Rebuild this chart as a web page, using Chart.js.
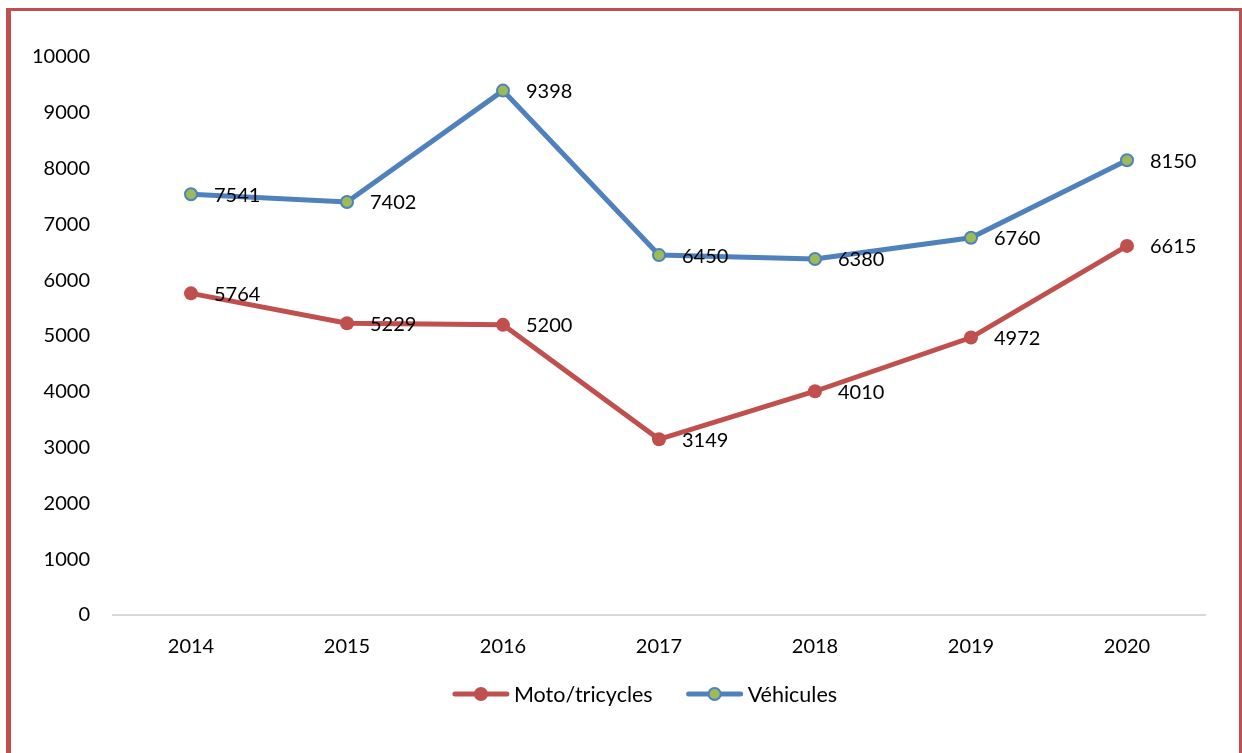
<!DOCTYPE html>
<html>
<head>
<meta charset="utf-8">
<script src="https://cdn.jsdelivr.net/npm/chart.js@4/dist/chart.umd.min.js"></script>
<style>
  html, body { margin: 0; padding: 0; background: #fff; overflow: hidden; }
  #wrap { position: relative; width: 1242px; height: 753px; }
  #chart { position: absolute; left: 0; top: 0; }
  #frame {
    position: absolute; left: 6px; top: 8px; right: 0; bottom: -10px;
    border-left: 5px solid #C0504D; border-top: 3px solid #C0504D; border-right: 3px solid #C0504D;
    pointer-events: none;
  }
</style>
</head>
<body>
<div id="wrap">
  <canvas id="chart" width="1242" height="753"></canvas>
  <div id="frame"></div>
</div>
<script>
const years = ["2014", "2015", "2016", "2017", "2018", "2019", "2020"];
const motoValues = [5764, 5229, 5200, 3149, 4010, 4972, 6615];
const vehiculeValues = [7541, 7402, 9398, 6450, 6380, 6760, 8150];
const seriesNames = ["Moto/tricycles", "Véhicules"];

const RED = "#C0504D";
const BLUE = "#4F81BD";
const GREEN = "#9BBB59";
const FONT = "Lato, 'Open Sans', sans-serif";

// value next to each point
const valueLabels = {
  id: "valueLabels",
  afterDatasetsDraw(chart) {
    const ctx = chart.ctx;
    ctx.save();
    ctx.font = "20px " + FONT;
    ctx.fillStyle = "#000";
    ctx.textAlign = "left";
    ctx.textBaseline = "middle";
    chart.data.datasets.forEach((ds, i) => {
      chart.getDatasetMeta(i).data.forEach((pt, j) => {
        ctx.fillText(String(ds.data[j]), pt.x + 23, pt.y + 1);
      });
    });
    ctx.restore();
  },
};

// Excel style legend: line sample with marker, then the name
const lineLegend = {
  id: "lineLegend",
  afterDraw(chart) {
    const ctx = chart.ctx;
    const sampleW = 56, textGap = 5, itemGap = 34;
    const cx = (chart.chartArea.left + chart.chartArea.right) / 2 - 14;
    const y = 694;
    ctx.save();
    ctx.font = "21.5px " + FONT;
    const widths = chart.data.datasets.map((ds) => sampleW + textGap + ctx.measureText(ds.label).width);
    const total = widths.reduce((a, b) => a + b, 0) + itemGap * (widths.length - 1);
    let x = cx - total / 2;
    chart.data.datasets.forEach((ds, i) => {
      ctx.strokeStyle = ds.borderColor;
      ctx.lineWidth = 5;
      ctx.lineCap = "round";
      ctx.beginPath();
      ctx.moveTo(x + 2, y);
      ctx.lineTo(x + sampleW - 2, y);
      ctx.stroke();
      ctx.beginPath();
      ctx.arc(x + sampleW / 2, y, ds.pointRadius, 0, Math.PI * 2);
      ctx.fillStyle = ds.pointBackgroundColor;
      ctx.fill();
      if (ds.pointBorderWidth) {
        ctx.lineWidth = ds.pointBorderWidth;
        ctx.strokeStyle = ds.pointBorderColor;
        ctx.stroke();
      }
      ctx.fillStyle = "#000";
      ctx.textAlign = "left";
      ctx.textBaseline = "middle";
      ctx.fillText(ds.label, x + sampleW + textGap, y + 1);
      x += widths[i] + itemGap;
    });
    ctx.restore();
  },
};

new Chart(document.getElementById("chart").getContext("2d"), {
  type: "line",
  data: {
    labels: years,
    datasets: [
      {
        label: seriesNames[0],
        data: motoValues,
        borderColor: RED,
        backgroundColor: RED,
        borderWidth: 5,
        pointRadius: 7,
        pointBackgroundColor: RED,
        pointBorderColor: RED,
        pointBorderWidth: 0,
        tension: 0,
      },
      {
        label: seriesNames[1],
        data: vehiculeValues,
        borderColor: BLUE,
        backgroundColor: GREEN,
        borderWidth: 5,
        pointRadius: 6,
        pointBackgroundColor: GREEN,
        pointBorderColor: BLUE,
        pointBorderWidth: 2,
        tension: 0,
      },
    ],
  },
  options: {
    responsive: false,
    animation: false,
    devicePixelRatio: 1,
    layout: { padding: { top: 57, left: 0, right: 37, bottom: 93 } },
    scales: {
      x: {
        offset: true,
        grid: { display: false, drawTicks: false },
        border: { display: true, color: "#D9D9D9", width: 2 },
        ticks: { color: "#000", font: { family: FONT, size: 20 }, padding: 20, maxRotation: 0 },
        afterFit(scale) { scale.height = 45; },
      },
      y: {
        min: 0,
        max: 10000,
        grid: { display: false, drawTicks: false },
        border: { display: false },
        ticks: {
          stepSize: 1000,
          color: "#000",
          font: { family: FONT, size: 20 },
          padding: 23,
          callback: (v) => String(v),
        },
        afterFit(scale) { scale.width = 113; },
      },
    },
    plugins: {
      tooltip: { enabled: false },
      legend: { display: false },
    },
  },
  plugins: [valueLabels, lineLegend],
});
</script>
</body>
</html>
